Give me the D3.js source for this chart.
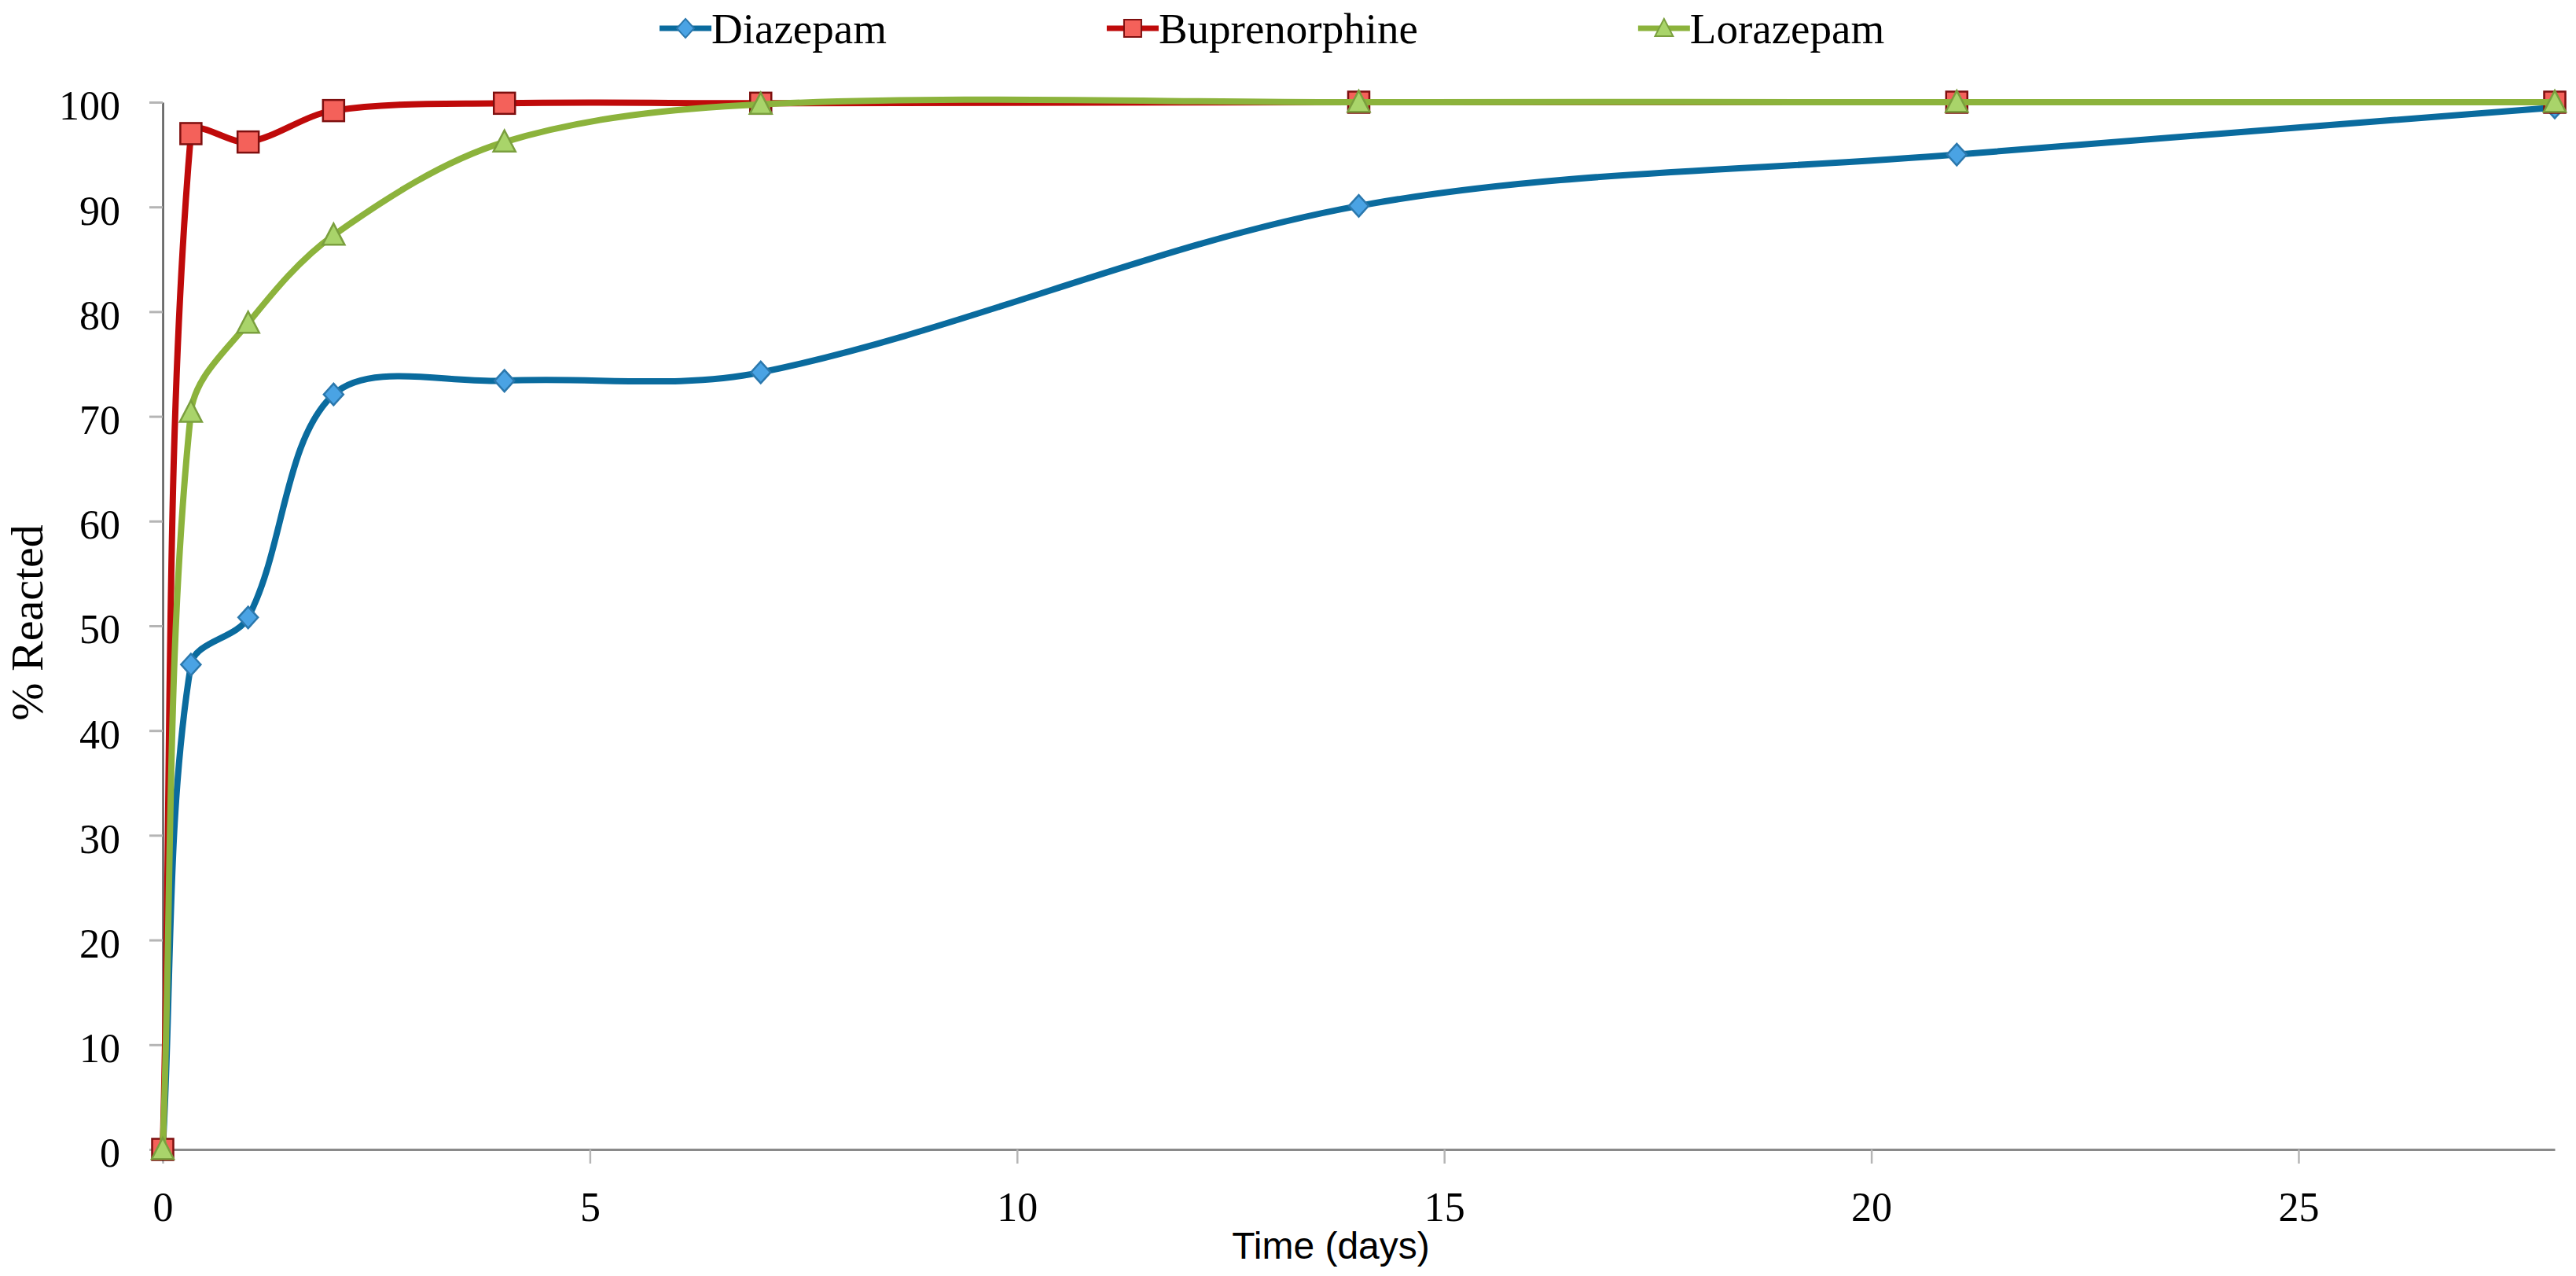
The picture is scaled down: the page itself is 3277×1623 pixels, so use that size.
<!DOCTYPE html>
<html>
<head>
<meta charset="utf-8">
<script src="https://cdn.jsdelivr.net/npm/d3@7"></script>
<style>
  body { margin: 0; background: #fff; }
  svg { display: block; }
</style>
</head>
<body>
<div id="chart"></div>
<script>
// data
var days = [0, 0.33, 1, 2, 4, 7, 14, 21, 28];
var diazepam = [0, 46.3, 50.8, 72.1, 73.4, 74.2, 90.1, 95.0, 99.5];
var buprenorphine = [0, 97.0, 96.2, 99.2, 99.9, 99.9, 100, 100, 100];
var lorazepam = [0, 70.4, 78.9, 87.3, 96.2, 99.8, 100, 100, 100];
var seriesNames = ["Diazepam", "Buprenorphine", "Lorazepam"];
var xTicks = [0, 5, 10, 15, 20, 25];
var yTicks = [0, 10, 20, 30, 40, 50, 60, 70, 80, 90, 100];

var W = 3277, H = 1623;
var margin = {top: 130, right: 27, bottom: 161, left: 207},
    width = W - margin.left - margin.right,
    height = H - margin.top - margin.bottom;

var svg = d3.select("#chart").append("svg").attr("width", W).attr("height", H),
    g = svg.append("g").attr("transform", "translate(" + margin.left + "," + margin.top + ")");

svg.insert("rect", ":first-child").attr("width", W).attr("height", H).attr("fill", "#fff");

var x = d3.scaleLinear().domain([0, 28]).range([0, width]);
var y = d3.scaleLinear().domain([0, 100]).range([height, 0]);

var styles = {
  "Diazepam":      {line: "#0a6b9e", fill: "#4aa3e4", stroke: "#2b78ad", shape: "diamond"},
  "Buprenorphine": {line: "#bf0a0a", fill: "#f4615a", stroke: "#7e0f0f", shape: "square"},
  "Lorazepam":     {line: "#8cb33c", fill: "#a9d46a", stroke: "#7a9f3e", shape: "triangle"}
};

var series = [diazepam, buprenorphine, lorazepam].map(function(vals, i) {
  return {name: seriesNames[i], values: days.map(function(d, j) { return {x: d, y: vals[j]}; })};
});

// axes
var xAxis = g.append("g")
    .attr("transform", "translate(0," + height + ")")
    .call(d3.axisBottom(x).tickValues(xTicks).tickSize(18).tickSizeOuter(0).tickPadding(36));
xAxis.select(".domain").attr("stroke", "#8a8a8a").attr("stroke-width", 3);
xAxis.selectAll(".tick line").attr("stroke", "#b5b5b5").attr("stroke-width", 2.5);
xAxis.selectAll(".tick text")
    .attr("font-family", "'Liberation Serif', 'Times New Roman', serif")
    .attr("font-size", 52).attr("fill", "#000");

var yAxis = g.append("g")
    .call(d3.axisLeft(y).tickValues(yTicks).tickSize(17).tickSizeOuter(0).tickPadding(37));
yAxis.select(".domain").attr("stroke", "#5a5a5a").attr("stroke-width", 2.5);
yAxis.selectAll(".tick line").attr("stroke", "#b5b5b5").attr("stroke-width", 3);
yAxis.selectAll(".tick text")
    .attr("font-family", "'Liberation Serif', 'Times New Roman', serif")
    .attr("font-size", 52).attr("fill", "#000").attr("dy", "0.42em");

// axis titles
svg.append("text")
    .attr("x", 1693).attr("y", 1601)
    .attr("text-anchor", "middle")
    .attr("font-family", "'Liberation Sans Narrow', 'Liberation Sans', Arial, sans-serif")
    .attr("font-size", 48)
    .text("Time (days)");

svg.append("text")
    .attr("transform", "translate(54,792) rotate(-90)")
    .attr("text-anchor", "middle")
    .attr("font-family", "'Liberation Serif', 'Times New Roman', serif")
    .attr("font-size", 58)
    .text("% Reacted");

// spreadsheet-style smoothing: bezier tangents scaled by neighbouring segment lengths
function curveSmooth(context) {
  var pts;
  return {
    areaStart: function() {}, areaEnd: function() {},
    lineStart: function() { pts = []; },
    point: function(px, py) { pts.push([+px, +py]); },
    lineEnd: function() {
      var n = pts.length;
      if (!n) return;
      context.moveTo(pts[0][0], pts[0][1]);
      function dist(a, b) { return Math.hypot(b[0] - a[0], b[1] - a[1]); }
      for (var i = 0; i < n - 1; i++) {
        var p0 = pts[Math.max(i - 1, 0)], p1 = pts[i], p2 = pts[i + 1], p3 = pts[Math.min(i + 2, n - 1)];
        var d01 = dist(p0, p1), d12 = dist(p1, p2), d23 = dist(p2, p3);
        var f1 = d01 + d12 > 0 ? d12 / (d01 + d12) / 3 : 0,
            f2 = d12 + d23 > 0 ? d12 / (d12 + d23) / 3 : 0;
        if (i === 0) f1 = 1 / 3;
        if (i === n - 2) f2 = 1 / 3;
        var c1 = [p1[0] + (p2[0] - p0[0]) * f1, p1[1] + (p2[1] - p0[1]) * f1],
            c2 = [p2[0] - (p3[0] - p1[0]) * f2, p2[1] - (p3[1] - p1[1]) * f2];
        context.bezierCurveTo(c1[0], c1[1], c2[0], c2[1], p2[0], p2[1]);
      }
    }
  };
}

var line = d3.line()
    .x(function(d) { return x(d.x); })
    .y(function(d) { return y(d.y); })
    .curve(curveSmooth);

function marker(sel, shape, s) {
  if (shape === "square") {
    sel.append("rect").attr("x", -s / 2).attr("y", -s / 2).attr("width", s).attr("height", s);
  } else if (shape === "diamond") {
    sel.append("path").attr("d", "M0," + (-s * 0.55) + "L" + (s * 0.5) + ",0L0," + (s * 0.55) + "L" + (-s * 0.5) + ",0Z");
  } else {
    sel.append("path").attr("d", "M0," + (-s * 0.55) + "L" + (s * 0.52) + "," + (s * 0.45) + "L" + (-s * 0.52) + "," + (s * 0.45) + "Z");
  }
}

series.forEach(function(s) {
  var st = styles[s.name];
  var sg = g.append("g");
  sg.append("path")
      .datum(s.values)
      .attr("fill", "none")
      .attr("stroke", st.line)
      .attr("stroke-width", 8)
      .attr("stroke-linejoin", "round")
      .attr("d", line);

  sg.selectAll(".pt")
    .data(s.values)
    .enter().append("g")
      .attr("class", "pt")
      .attr("transform", function(d) { return "translate(" + x(d.x) + "," + y(d.y) + ")"; })
      .each(function() {
        var m = d3.select(this);
        marker(m, st.shape, st.shape === "diamond" ? 25 : 27);
        m.selectAll("rect, path").attr("fill", st.fill).attr("stroke", st.stroke).attr("stroke-width", 2.5);
      });
});

// legend
var lx = 839;
seriesNames.forEach(function(name) {
  var st = styles[name];
  var lg = svg.append("g").attr("transform", "translate(" + lx + ",36)");
  lg.append("line").attr("x1", 0).attr("x2", 66).attr("stroke", st.line).attr("stroke-width", 7);
  var m = lg.append("g").attr("transform", "translate(33,0)");
  marker(m, st.shape, 22);
  m.selectAll("rect, path").attr("fill", st.fill).attr("stroke", st.stroke).attr("stroke-width", 2);
  var t = lg.append("text")
      .attr("x", 66).attr("y", 19)
      .attr("font-family", "'Liberation Serif', 'Times New Roman', serif")
      .attr("font-size", 55)
      .text(name);
  lx += 66 + t.node().getComputedTextLength() + 280;
});
</script>
</body>
</html>
